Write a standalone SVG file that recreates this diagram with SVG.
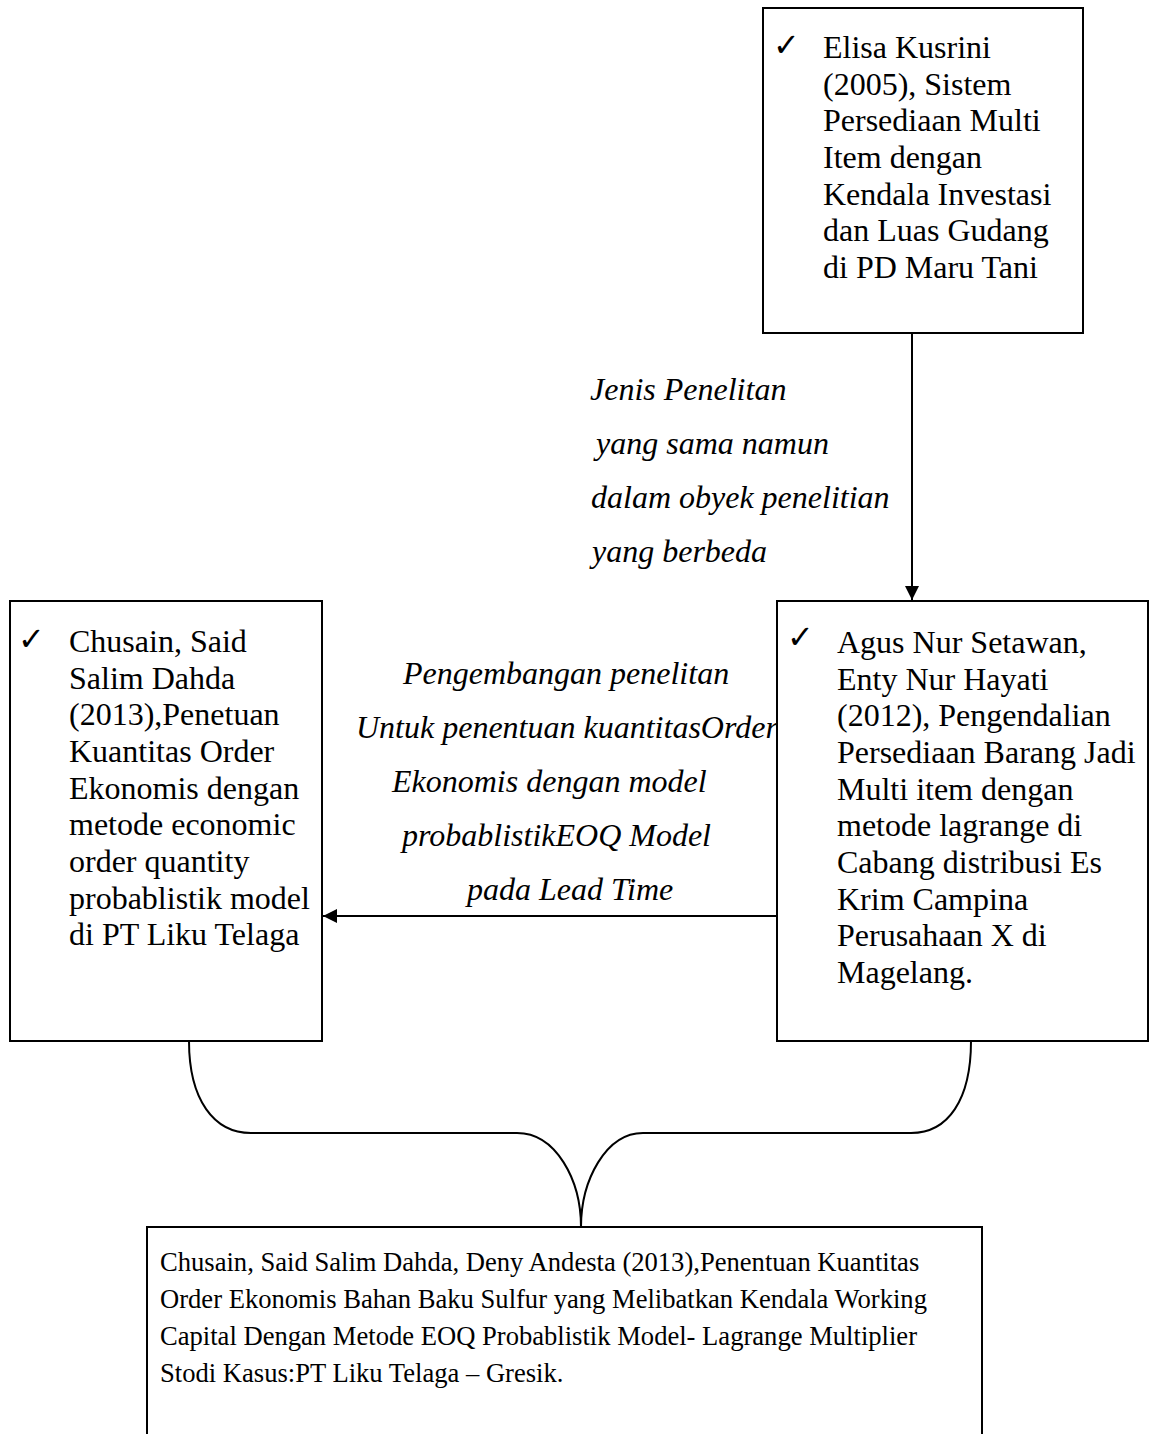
<svg xmlns="http://www.w3.org/2000/svg" width="1149" height="1434" viewBox="0 0 1149 1434">
<style>
.box{fill:#fff;stroke:#000;stroke-width:2}
.t{font-family:"Liberation Serif","Times New Roman",serif;font-size:32px;fill:#000}
.lbl{font-family:"Liberation Serif","Times New Roman",serif;font-size:32px;font-style:italic;fill:#000}
.bt{font-family:"Liberation Serif","Times New Roman",serif;font-size:26.6px;fill:#000}
.ck{font-family:"DejaVu Sans",sans-serif;font-size:32px;font-weight:bold;fill:#000}
.ln{fill:none;stroke:#000;stroke-width:2}
</style>
<defs>
<marker id="ah" markerWidth="16" markerHeight="16" refX="14" refY="7" orient="auto" markerUnits="userSpaceOnUse">
<path d="M0,0 L14,7 L0,14 Z" fill="#000"/>
</marker>
</defs>
<rect width="1149" height="1434" fill="#fff"/>
<g id="connectors">
<line class="ln" x1="912" y1="333" x2="912" y2="600" marker-end="url(#ah)"/>
<line class="ln" x1="777" y1="916" x2="323" y2="916" marker-end="url(#ah)"/>
<path class="ln" d="M189,1041 C189,1100 214,1133 251,1133 L517,1133 C556,1133 581,1180 581,1227 C581,1180 606,1133 643,1133 L911,1133 C948,1133 971,1100 971,1041"/>
<g id="label-top">
<text class="lbl" x="590" y="400">Jenis Penelitan</text>
<text class="lbl" x="596" y="454">yang sama namun</text>
<text class="lbl" x="591" y="508">dalam obyek penelitian</text>
<text class="lbl" x="592" y="562">yang berbeda</text>
</g>
<g id="label-mid">
<text class="lbl" x="403" y="684">Pengembangan penelitan</text>
<text class="lbl" x="356" y="738">Untuk penentuan kuantitasOrder</text>
<text class="lbl" x="392" y="792">Ekonomis dengan model</text>
<text class="lbl" x="402" y="846">probablistikEOQ Model</text>
<text class="lbl" x="467" y="900">pada Lead Time</text>
</g>
</g>
<g id="node-elisa">
<rect class="box" x="763" y="8" width="320" height="325"/>
<text class="ck" x="773" y="56">✓</text>
<text class="t" x="823" y="58">Elisa Kusrini</text>
<text class="t" x="823" y="95">(2005), Sistem</text>
<text class="t" x="823" y="131">Persediaan Multi</text>
<text class="t" x="823" y="168">Item dengan</text>
<text class="t" x="823" y="205">Kendala Investasi</text>
<text class="t" x="823" y="241">dan Luas Gudang</text>
<text class="t" x="823" y="278">di PD Maru Tani</text>
</g>
<g id="node-chusain">
<rect class="box" x="10" y="601" width="312" height="440"/>
<text class="ck" x="18" y="650">✓</text>
<text class="t" x="69" y="652">Chusain, Said</text>
<text class="t" x="69" y="689">Salim Dahda</text>
<text class="t" x="69" y="725">(2013),Penetuan</text>
<text class="t" x="69" y="762">Kuantitas Order</text>
<text class="t" x="69" y="799">Ekonomis dengan</text>
<text class="t" x="69" y="835">metode economic</text>
<text class="t" x="69" y="872">order quantity</text>
<text class="t" x="69" y="909">probablistik model</text>
<text class="t" x="69" y="945">di PT Liku Telaga</text>
</g>
<g id="node-agus">
<rect class="box" x="777" y="601" width="371" height="440"/>
<text class="ck" x="787" y="648">✓</text>
<text class="t" x="837" y="653">Agus Nur Setawan,</text>
<text class="t" x="837" y="690">Enty Nur Hayati</text>
<text class="t" x="837" y="726">(2012), Pengendalian</text>
<text class="t" x="837" y="763">Persediaan Barang Jadi</text>
<text class="t" x="837" y="800">Multi item dengan</text>
<text class="t" x="837" y="836">metode lagrange di</text>
<text class="t" x="837" y="873">Cabang distribusi Es</text>
<text class="t" x="837" y="910">Krim Campina</text>
<text class="t" x="837" y="946">Perusahaan X di</text>
<text class="t" x="837" y="983">Magelang.</text>
</g>
<g id="node-result">
<rect class="box" x="147" y="1227" width="835" height="230"/>
<text class="bt" x="160" y="1271">Chusain, Said Salim Dahda, Deny Andesta (2013),Penentuan Kuantitas</text>
<text class="bt" x="160" y="1308">Order Ekonomis Bahan Baku Sulfur yang Melibatkan Kendala Working</text>
<text class="bt" x="160" y="1345">Capital Dengan Metode EOQ Probablistik Model- Lagrange Multiplier</text>
<text class="bt" x="160" y="1382">Stodi Kasus:PT Liku Telaga – Gresik.</text>
</g>
</svg>
